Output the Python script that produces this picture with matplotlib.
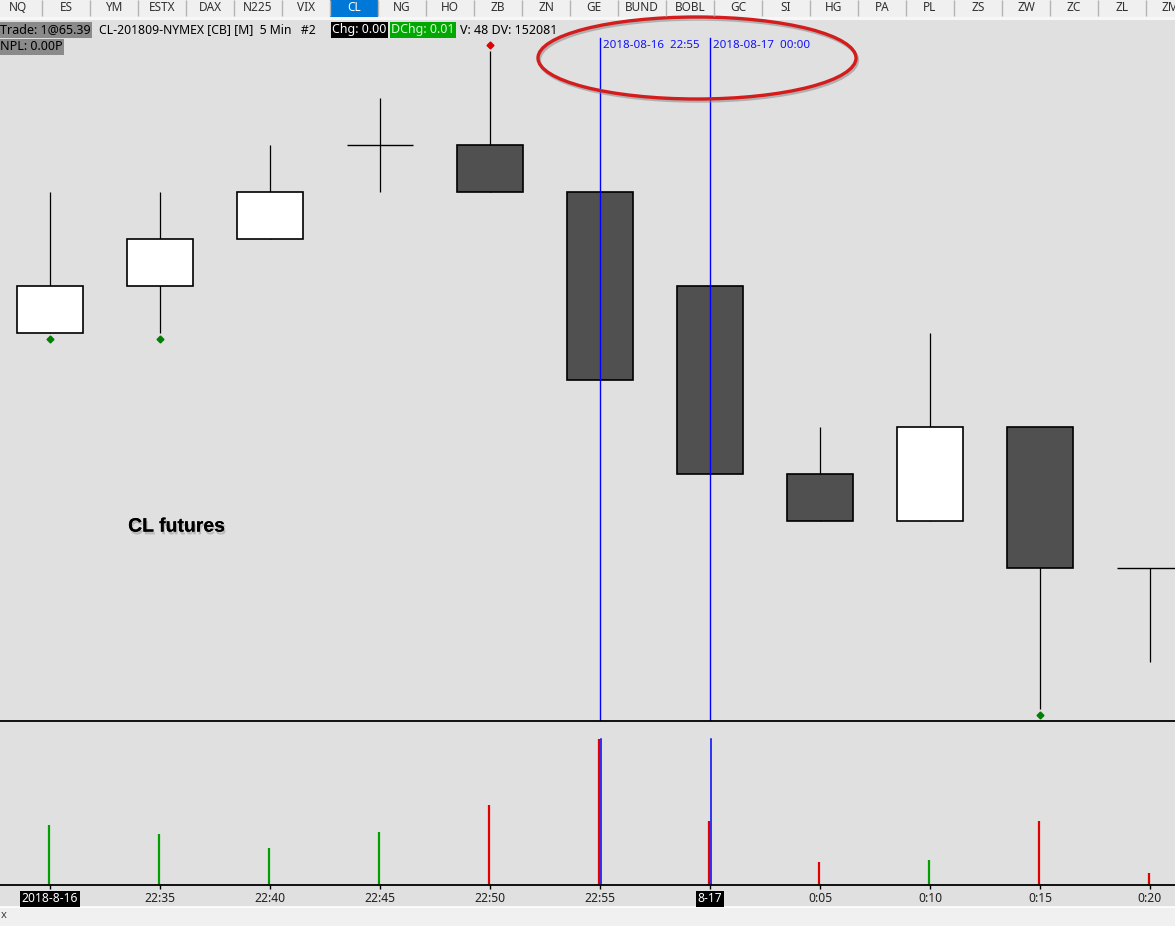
import matplotlib
matplotlib.use("Agg")
import matplotlib.pyplot as plt
import matplotlib.patches as mpatches
import matplotlib.patheffects as pe
import matplotlib.transforms as mtrans

# 5 min CL bars, 2018-08-16 22:30 -> 2018-08-17 00:20
times = ['2018-8-16', '22:35', '22:40', '22:45', '22:50', '22:55',
         '8-17', '0:05', '0:10', '0:15', '0:20']
opens = [65.44, 65.45, 65.46, 65.48, 65.48, 65.47, 65.45, 65.41, 65.40, 65.42, 65.39]
highs = [65.47, 65.47, 65.48, 65.49, 65.50, 65.47, 65.45, 65.42, 65.44, 65.42, 65.39]
lows = [65.44, 65.44, 65.46, 65.47, 65.47, 65.43, 65.41, 65.40, 65.40, 65.36, 65.37]
closes = [65.45, 65.46, 65.47, 65.48, 65.47, 65.43, 65.41, 65.40, 65.42, 65.39, 65.39]
volumes = [240, 204, 148, 212, 320, 584, 256, 92, 100, 256, 48]
vol_colors = ['#00a000', '#00a000', '#00a000', '#00a000', '#e00000', '#e00000',
              '#e00000', '#e00000', '#00a000', '#e00000', '#e00000']
low_marks = [0, 1, 9]
high_marks = [4]
cursor_bars = [5, 6]
cursor_labels = ['2018-08-16  22:55', '2018-08-17  00:00']
boxed_times = [0, 6]

tabs = ['NQ', 'ES', 'YM', 'ESTX', 'DAX', 'N225', 'VIX', 'CL', 'NG', 'HO', 'ZB', 'ZN',
        'GE', 'BUND', 'BOBL', 'GC', 'SI', 'HG', 'PA', 'PL', 'ZS', 'ZW', 'ZC', 'ZL', 'ZM']
active_tab = 'CL'

W, H = 1175, 926
BG = '#e0e0e0'
UI = 'Noto Sans'
FS = 9.0

fig = plt.figure(figsize=(W / 100, H / 100), dpi=100, facecolor=BG)


def pix_axes(x0, y0, x1, y1, **kw):
    return fig.add_axes([x0 / W, 1 - y1 / H, (x1 - x0) / W, (y1 - y0) / H], **kw)


xl = (-50 / 110, (W - 50) / 110)

# price panel
ax = pix_axes(0, 20, W, 721)
ax.set_facecolor(BG)
ax.set_xlim(*xl)
ax.set_ylim(65.39 - 153 / 4700, 65.39 + 548 / 4700)
ax.axis('off')
bw = 0.6
for i in range(len(opens)):
    o, h, l, c = opens[i], highs[i], lows[i], closes[i]
    ax.vlines(i, l, h, color='black', lw=0.9, zorder=2)
    if o == c:
        ax.hlines(o, i - bw / 2, i + bw / 2, color='black', lw=1.0, zorder=2)
    else:
        fc = 'white' if c > o else '#505050'
        ax.add_patch(mpatches.Rectangle((i - bw / 2, min(o, c)), bw, abs(c - o),
                                        facecolor=fc, edgecolor='black', lw=1.2, zorder=3))
down = mtrans.offset_copy(ax.transData, fig=fig, y=-4.5, units='points')
up = mtrans.offset_copy(ax.transData, fig=fig, y=4.5, units='points')
for i in low_marks:
    ax.plot(i, lows[i], 'D', ms=3.5, color='#008000', transform=down, zorder=4)
for i in high_marks:
    ax.plot(i, highs[i], 'D', ms=3.5, color='#e00000', transform=up, zorder=4)
for i, lab in zip(cursor_bars, cursor_labels):
    ax.axvline(i, ymin=0, ymax=(721 - 38) / 701, color='#0000ff', lw=1.0, zorder=5)
    tr = mtrans.offset_copy(ax.get_xaxis_transform(), fig=fig, x=2.5, units='points')
    ax.text(i, (721 - 46) / 701, lab, transform=tr, color='#1010ff', fontsize=8.3,
            family=UI, va='center', ha='left')
ax.text(0.71, 65.3987, 'CL futures', fontsize=14, fontweight='bold',
        family='Liberation Sans', color='black', va='center',
        path_effects=[pe.withSimplePatchShadow(offset=(1, -2), shadow_rgbFace='#707070', alpha=0.35),
                      pe.Normal()])

# volume panel
vax = pix_axes(0, 721, W, 885)
vax.set_facecolor(BG)
vax.set_xlim(*xl)
vax.set_ylim(0, 164 * 4)
vax.axis('off')
vax.vlines([i - 0.01 for i in range(len(volumes))], 0, volumes, colors=vol_colors, lw=1.6)
for i in cursor_bars:
    vax.axvline(i + 0.005, ymin=0, ymax=146 / 164, color='#0000ff', lw=1.1)

# chrome overlay in pixel coordinates
ov = pix_axes(0, 0, W, H, zorder=10)
ov.set_xlim(0, W)
ov.set_ylim(H, 0)
ov.axis('off')
ov.patch.set_alpha(0)
ov.add_patch(mpatches.Rectangle((0, 0), W, 17, facecolor='#f0f0f0', edgecolor='none'))
ov.add_patch(mpatches.Rectangle((0, 17), W, 3, facecolor='#f7f7f7', edgecolor='none'))
for k, t in enumerate(tabs):
    x0 = -6 + 48 * k
    if t == active_tab:
        ov.add_patch(mpatches.Rectangle((x0, 0), 48, 17, facecolor='#0078d7', edgecolor='none'))
        col = 'white'
    else:
        col = '#303030'
    ov.vlines(x0 + 48, 0, 16, color='#b4b4b4', lw=1)
    ov.text(x0 + 24, 7.5, t, ha='center', va='center', fontsize=8.5, family=UI, color=col,
            clip_on=False)

ov.hlines([721, 885], 0, W, color='black', lw=1.3)
ov.add_patch(mpatches.Rectangle((0, 907), W, 19, facecolor='#f0f0f0', edgecolor='none'))
ov.hlines(907, 0, W, color='white', lw=1.2)
ov.text(1, 916, 'x', fontsize=8, family=UI, va='center', color='#404040')

# info line
box = dict(boxstyle='square,pad=0.12', ec='none')
ov.text(0, 30, 'Trade: 1@65.39', fontsize=FS, family=UI, va='center', bbox=dict(box, fc='#8a8a8a'))
ov.text(0, 47, 'NPL: 0.00P', fontsize=FS, family=UI, va='center', bbox=dict(box, fc='#8a8a8a'))
ov.text(99, 30, 'CL-201809-NYMEX [CB] [M]  5 Min   #2', fontsize=8.8, family=UI, va='center')
ov.text(332, 30, 'Chg: 0.00', fontsize=FS, family=UI, va='center', color='white',
        bbox=dict(box, fc='black'))
ov.text(391, 30, 'DChg: 0.01', fontsize=FS, family=UI, va='center', color='#d8ffd8',
        bbox=dict(box, fc='#00a800'))
ov.text(460, 30, 'V: 48 DV: 152081', fontsize=FS, family=UI, va='center')

# time axis
for i, t in enumerate(times):
    px = 50 + 110 * i
    ov.vlines(px, 885, 889, color='black', lw=1)
    if i in boxed_times:
        ov.text(px, 899, t, ha='center', va='center', fontsize=8.7, family=UI, color='white',
                bbox=dict(box, fc='black'))
    else:
        ov.text(px, 899, t, ha='center', va='center', fontsize=8.7, family=UI, color='#202020')

# red highlight ellipse
ov.add_patch(mpatches.Ellipse((697, 58), 318, 82, facecolor='none', edgecolor='#d41c1c', lw=2.4,
                              path_effects=[pe.SimpleLineShadow(offset=(1, -1.5), shadow_color='#808080', alpha=0.5),
                                            pe.Normal()]))

fig.savefig('out.png', dpi=100, facecolor=BG)
